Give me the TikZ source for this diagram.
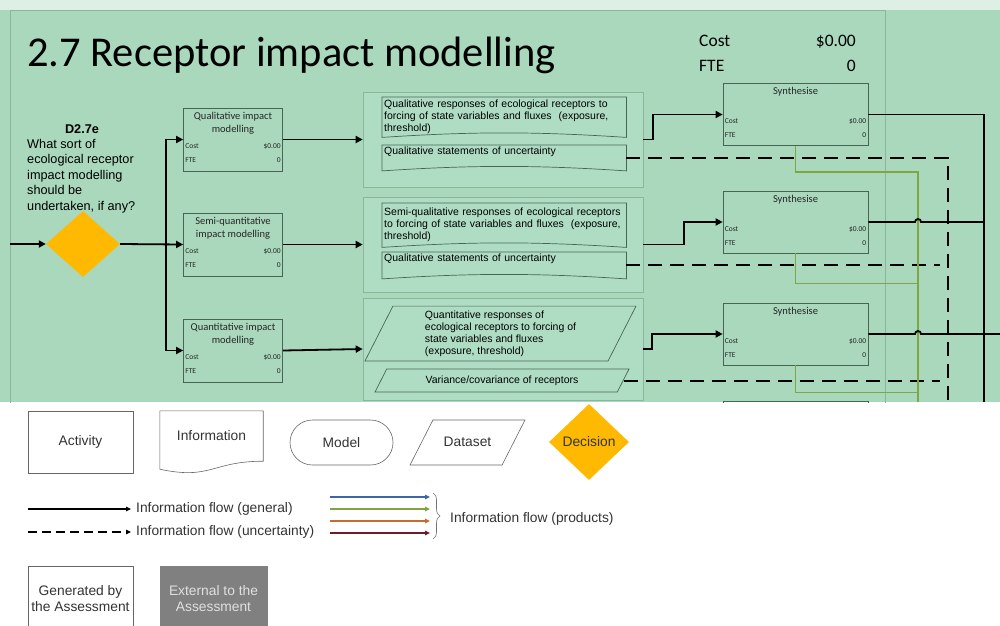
\documentclass[tikz,border=0pt]{standalone}
\usepackage{fontspec}
\setmainfont{Liberation Sans}
\newfontfamily\calibri{Carlito}
\usetikzlibrary{shapes.geometric,arrows.meta,decorations.pathreplacing}

\definecolor{slide}{RGB}{169,216,189}
\definecolor{slidetop}{RGB}{222,240,230}
\definecolor{panel}{RGB}{175,221,196}
\definecolor{panelline}{RGB}{140,182,156}
\definecolor{boxline}{RGB}{72,100,84}
\definecolor{decision}{RGB}{255,185,0}
\definecolor{prodgreen}{RGB}{128,166,66}
\definecolor{flowblue}{RGB}{62,100,168}
\definecolor{floworange}{RGB}{198,108,44}
\definecolor{flowred}{RGB}{112,28,40}
\definecolor{external}{RGB}{128,128,128}

\tikzset{
  flow/.style={line width=1.8pt, -{Triangle[length=7pt,width=7pt]}},
  wire/.style={line width=1.8pt},
  uncert/.style={line width=2pt, dash pattern=on 14pt off 8pt},
  product/.style={draw=prodgreen, line width=1.5pt},
  activity/.style={draw=boxline, line width=0.7pt, minimum width=99pt, minimum height=63pt, inner sep=0pt},
  synth/.style={activity, minimum width=145pt, minimum height=62pt},
  boxtitle/.style={font=\calibri\fontsize{10.5}{13}\selectfont, align=center, text=black!85, inner sep=0pt},
  boxfig/.style={font=\calibri\fontsize{7.5}{8}\selectfont, text=black!85, inner sep=0pt},
  topfig/.style={font=\calibri\fontsize{17.5}{20}\selectfont, inner sep=0pt},
  group/.style={draw=panelline, fill=panel, line width=0.6pt, minimum width=280pt, minimum height=95pt, inner sep=0pt},
  doc/.style={inner sep=2pt, text width=240pt, align=left, anchor=north west, font=\fontsize{10.5}{12}\selectfont},
  docedge/.style={draw=boxline, line width=0.7pt},
  dataset/.style={trapezium, trapezium left angle=63, trapezium right angle=117, trapezium stretches body,
    draw=boxline, line width=0.7pt, inner xsep=0pt, align=left, font=\fontsize{10.5}{12}\selectfont},
  legtext/.style={font=\fontsize{13.8}{16}\selectfont, text=black!80, inner sep=0pt},
  legbox/.style={legtext, draw=black!60, line width=0.6pt, minimum width=105pt, minimum height=62pt, align=center},
  legflow/.style={line width=1.2pt, -{Triangle[length=5pt,width=4.5pt]}},
}

% outline of an information sheet, bottom edge bowed
\newcommand\docoutline[1]{%
  \draw[docedge] (#1.north west) -- (#1.north east) -- (#1.south east)
    .. controls ([xshift=-90pt,yshift=6pt]#1.south east) and ([xshift=90pt,yshift=6pt]#1.south west) .. (#1.south west) -- cycle;}

\begin{document}
\begin{tikzpicture}[x=1pt, y=-1pt]
\useasboundingbox (0,0) rectangle (1000,625);

\begin{scope}
  \clip (0,0) rectangle (1000,402);
  % slide background and frame
  \fill[slidetop] (0,0) rectangle (1000,10);
  \fill[slide] (0,10) rectangle (1000,402);
  \draw[panelline, line width=0.8pt] (10,10) rectangle (885,410);

  % heading
  \node[anchor=base west, font=\calibri\fontsize{42.5}{50}\selectfont, inner sep=0pt] (title) at (27,66) {2.7 Receptor impact modelling};
  \node[topfig, anchor=base west] (tcost) at (699,46) {Cost};
  \node[topfig, anchor=base east] (tcostv) at (856,46) {\$0.00};
  \node[topfig, anchor=base west] (tfte) at (699,71) {FTE};
  \node[topfig, anchor=base east] (tftev) at (856,71) {0};

  % decision D2.7e
  \node[font=\bfseries\fontsize{12.7}{15.5}\selectfont, inner sep=0pt] (dhead) at (82,129) {D2.7e};
  \node[font=\fontsize{12.7}{15.5}\selectfont, align=left, anchor=north west, inner sep=0pt] (dq) at (27,139)
    {What sort of\\ecological receptor\\impact modelling\\should be\\undertaken, if any?};
  \node[diamond, fill=decision, minimum width=74pt, minimum height=66pt, inner sep=0pt] (dec) at (83,244) {};
  \coordinate (entry) at (10,244);
  \coordinate (fork) at (166,244);

  % modelling activities
  \foreach \n/\yy/\lbl in {qual/139.5/{Qualitative impact\\modelling},
                           semi/244.5/{Semi-quantitative\\impact modelling},
                           quant/350.5/{Quantitative impact\\modelling}}{
    \node[activity] (\n) at (233,\yy) {};
    \node[boxtitle, anchor=north] (\n-title) at ([yshift=-4pt]\n.north) {\lbl};
    \node[boxfig, anchor=west] (\n-cost) at ([xshift=2pt,yshift=-7pt]\n.west) {Cost};
    \node[boxfig, anchor=east] (\n-costv) at ([xshift=-2pt,yshift=-7pt]\n.east) {\$0.00};
    \node[boxfig, anchor=west] (\n-fte) at ([xshift=2pt,yshift=-21pt]\n.west) {FTE};
    \node[boxfig, anchor=east] (\n-ftev) at ([xshift=-2pt,yshift=-21pt]\n.east) {0};
  }

  % products of each activity
  \node[group] (g1) at (503,139.5) {};
  \node[group] (g2) at (503,244.5) {};
  \node[group, minimum height=102pt] (g3) at (503,349) {};

  \node[doc, minimum height=40pt] (d1a) at (382,97)
    {Qualitative responses of ecological receptors to\\forcing of state variables and fluxes \ (exposure,\\threshold)};
  \docoutline{d1a}
  \node[doc, text height=7.5pt, text depth=14pt] (d1b) at (382,145) {Qualitative statements of uncertainty};
  \docoutline{d1b}
  \node[doc, minimum height=44pt] (d2a) at (382,203)
    {Semi-qualitative responses of ecological receptors\\to forcing of state variables and fluxes \ (exposure,\\threshold)};
  \docoutline{d2a}
  \node[doc, text height=7.5pt, text depth=15pt] (d2b) at (382,252) {Qualitative statements of uncertainty};
  \docoutline{d2b}
  \node[dataset, inner ysep=4.5pt, minimum width=271pt] (d3a) at (500.5,333.5)
    {Quantitative responses of\\ecological receptors to forcing of\\state variables and fluxes\\(exposure, threshold)};
  \node[dataset, text height=7.5pt, text depth=2.5pt, inner ysep=6.5pt, minimum width=254pt] (d3b) at (502,380.5) {Variance/covariance of receptors};

  % synthesis steps
  \foreach \n/\yy in {syn1/114.5, syn2/222, syn3/334, syn4/432.5}{
    \node[synth] (\n) at (795.5,\yy) {};
    \node[boxtitle, anchor=north] (\n-title) at ([yshift=-4pt]\n.north) {Synthesise};
    \node[boxfig, anchor=west] (\n-cost) at ([xshift=2pt,yshift=-7pt]\n.west) {Cost};
    \node[boxfig, anchor=east] (\n-costv) at ([xshift=-2pt,yshift=-7pt]\n.east) {\$0.00};
    \node[boxfig, anchor=west] (\n-fte) at ([xshift=2pt,yshift=-21pt]\n.west) {FTE};
    \node[boxfig, anchor=east] (\n-ftev) at ([xshift=-2pt,yshift=-21pt]\n.east) {0};
  }

  % general flow
  \draw[flow] (entry) -- (dec);
  \draw[flow] (dec.east) -- (semi.west);
  \draw[flow] (fork) |- (qual.west);
  \draw[flow] (fork) |- (quant.west);
  \draw[flow] (qual.east) -- (g1.west);
  \draw[flow] (semi.east) -- (g2.west);
  \draw[flow] (quant.east) -- (g3.west);
  \draw[flow] (g1.east) -- ++(10,0) |- (syn1.west);
  \draw[flow] (g2.east) -- ++(41,0) |- (syn2.west);
  \draw[flow] (g3.east) -- ++(9,0) |- (syn3.west);

  % uncertainty flow
  \coordinate (ubend) at (948,402);
  \coordinate (ustop) at (940,402);
  \draw[uncert] (d1b.east) -| (ubend);
  \draw[uncert] (d2b.east) -- (d2b.east -| ustop);
  \draw[uncert] (d3b.east) -- (d3b.east -| ustop);

  % product lines
  \coordinate (gbus) at (918,402);
  \draw[product] (syn1.south) -- ++(0,26) -| (gbus);
  \draw[product] (syn2.south) -- ++(0,30) -| (gbus);
  \draw[product] (syn3.south) -- ++(0,27) -| (gbus);

  % outputs leaving the section
  \coordinate (outbus) at (984,402);
  \coordinate (outend) at (1000,334);
  \draw[wire] (syn1.east) -| (outbus);
  \draw[wire] (syn2.east) -- ([xshift=-3pt]gbus |- syn2.east) arc[start angle=180, end angle=0, radius=3pt]
    -- (outbus |- syn2.east);
  \draw[wire] (syn3.east) -- ([xshift=-3pt]gbus |- syn3.east) arc[start angle=180, end angle=0, radius=3pt]
    -- (outend);
\end{scope}

% key: shapes
\node[legbox] (lact) at (80.5,442) {Activity};
\node[legtext, minimum width=103pt, minimum height=50pt] (linfo) at (211.5,436) {Information};
\draw[draw=black!60, line width=0.6pt] (linfo.north west) -- (linfo.north east) -- (linfo.south east)
  .. controls ([xshift=-51.5pt]linfo.south east) and ([xshift=51.5pt,yshift=-19pt]linfo.south west)
  .. ([yshift=-8pt]linfo.south west) -- cycle;
\node[legtext, draw=black!60, line width=0.6pt, rounded corners=22.5pt, minimum width=103pt, minimum height=45pt] (lmod) at (341.5,442.5) {Model};
\node[dataset, legtext, draw=black!60, line width=0.6pt, text height=10pt, text depth=3pt, inner ysep=16pt, minimum width=115pt] (ldata) at (467.5,442.5) {Dataset};
\node[diamond, legtext, fill=decision, minimum width=80pt, minimum height=76pt] (ldec) at (589,442) {Decision};

% key: flows
\node[legtext, anchor=west] (lgen) at (136,509) {Information flow (general)};
\node[legtext, anchor=west] (lunc) at (136,532) {Information flow (uncertainty)};
\coordinate (lgenstart) at (28,509);
\coordinate (luncstart) at (28,532);
\draw[legflow] (lgenstart) -- ([xshift=-5pt]lgen.west);
\draw[legflow, dash pattern=on 9pt off 5pt] (luncstart) -- ([xshift=-5pt]lunc.west);

\foreach \c/\yy in {flowblue/497, prodgreen/509, floworange/521, flowred/533}{
  \coordinate (\c-s) at (330,\yy);
  \coordinate (\c-e) at (430,\yy);
  \draw[legflow, draw=\c, line width=1.5pt] (\c-s) -- (\c-e);
}
\coordinate (brtop) at (433,493);
\coordinate (brbot) at (433,539);
\draw[decorate, decoration={brace, amplitude=7pt}, draw=black!55, line width=0.6pt] (brtop) -- (brbot);
\node[legtext, anchor=west] (lprod) at (450,519) {Information flow (products)};

% key: origin of information
\node[legbox, minimum height=66pt] (lown) at (80.5,599) {Generated by\\the Assessment};
\node[legbox, fill=external, draw=external, text=black!12, minimum width=107pt, minimum height=66pt] (lext) at (213.5,599) {External to the\\Assessment};

\end{tikzpicture}
\end{document}
